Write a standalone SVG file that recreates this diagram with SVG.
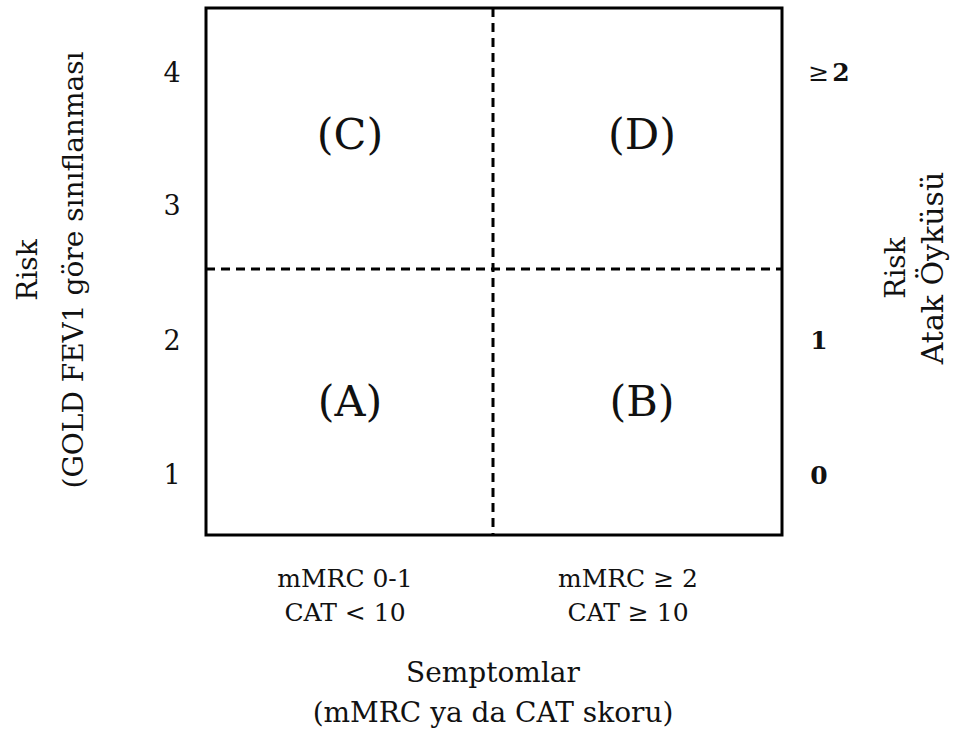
<svg xmlns="http://www.w3.org/2000/svg" width="957" height="737" viewBox="0 0 957 737">
<style>
text{font-family:"DejaVu Serif","Liberation Serif",serif;fill:#111;text-anchor:middle}
.n{font-size:27px}
.b{font-size:25px;font-weight:bold}
.ge{font-size:25px;font-weight:normal}
.q{font-size:43px}
.l{font-size:28px}
.s{font-size:25px}
.frame{fill:none;stroke:#000;stroke-width:3}
.dash{stroke:#000;stroke-width:3;stroke-dasharray:9,6;fill:none}
</style>
<rect width="957" height="737" fill="#fff"/>
<g id="grid">
<rect class="frame" x="206" y="8" width="576" height="527"/>
</g>
<g id="connectors">
<line class="dash" x1="493" y1="8" x2="493" y2="535"/>
<line class="dash" x1="206" y1="269" x2="782" y2="269"/>
</g>
<g id="quadrant-C"><text class="q" x="350" y="149">(C)</text></g>
<g id="quadrant-D"><text class="q" x="642" y="149">(D)</text></g>
<g id="quadrant-A"><text class="q" x="350" y="416">(A)</text></g>
<g id="quadrant-B"><text class="q" x="642" y="416">(B)</text></g>
<g id="left-scale">
<text class="n" x="172" y="82">4</text>
<text class="n" x="172" y="215">3</text>
<text class="n" x="172" y="350">2</text>
<text class="n" x="172" y="484">1</text>
</g>
<g id="right-scale">
<text class="b" x="829" y="81"><tspan class="ge">≥</tspan><tspan dx="3">2</tspan></text>
<text class="b" x="819" y="349">1</text>
<text class="b" x="819" y="484">0</text>
</g>
<g id="left-label">
<text class="l" transform="translate(37,270) rotate(-90)">Risk</text>
<text class="l" transform="translate(83,270) rotate(-90)">(GOLD FEV1  göre sınıflanması</text>
</g>
<g id="right-label">
<text class="l" transform="translate(905,268) rotate(-90)">Risk</text>
<text class="l" transform="translate(943,268) rotate(-90)" style="font-size:30px">Atak Öyküsü</text>
</g>
<g id="bottom-labels">
<text class="s" x="345" y="587">mMRC 0-1</text>
<text class="s" x="345" y="621">CAT &lt; 10</text>
<text class="s" x="628" y="587">mMRC ≥ 2</text>
<text class="s" x="628" y="621">CAT ≥ 10</text>
<text class="l" x="493" y="682">Semptomlar</text>
<text class="l" x="493" y="722">(mMRC ya da CAT skoru)</text>
</g>
</svg>
